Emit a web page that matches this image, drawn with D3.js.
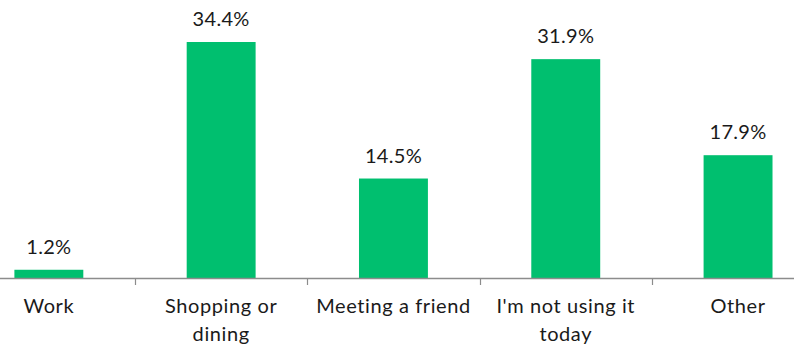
<!DOCTYPE html>
<html><head><meta charset="utf-8">
<script src="https://cdn.jsdelivr.net/npm/d3@7"></script>
<style>body{margin:0;background:#fff}svg{display:block}</style>
</head><body><svg id="c" width="800" height="345"></svg>
<script>
const categories = [["Work"], ["Shopping or", "dining"], ["Meeting a friend"], ["I'm not using it", "today"], ["Other"]];
const values = [1.2, 34.4, 14.5, 31.9, 17.9];
const valueLabels = ["1.2%", "34.4%", "14.5%", "31.9%", "17.9%"];

const svg = d3.select("#c");
const font = "Lato, 'Noto Sans', sans-serif";
const baseY = 278;
const x = d3.scaleBand().domain(d3.range(values.length)).range([-37.3, 824.2]).paddingInner(0.6).paddingOuter(0.3);
const y = d3.scaleLinear().domain([0, 34.4]).range([baseY, 42]);

svg.selectAll("rect.bar").data(values).join("rect")
  .attr("class", "bar")
  .attr("x", (d, i) => x(i)).attr("width", x.bandwidth())
  .attr("y", d => y(d)).attr("height", d => baseY - y(d))
  .attr("fill", "#00BF6F");

svg.selectAll("text.val").data(values).join("text")
  .attr("class", "val")
  .attr("x", (d, i) => x(i) + x.bandwidth() / 2)
  .attr("y", d => y(d) - 16)
  .attr("text-anchor", "middle")
  .attr("font-family", font).attr("font-size", 20).attr("letter-spacing", 0.3).attr("fill", "#1a1a1a")
  .text((d, i) => valueLabels[i]);

// axis
const step = x.step();
const g = svg.append("g");
g.append("line").attr("x1", 0).attr("x2", 794).attr("y1", baseY + 0.5).attr("y2", baseY + 0.5)
  .attr("stroke", "#8c8c8c").attr("stroke-width", 1.5);
const bounds = d3.range(1, values.length).map(i => x(i) - (step - x.bandwidth()) / 2);
g.selectAll("line.tick").data(bounds).join("line")
  .attr("x1", d => Math.round(d) + 0.5).attr("x2", d => Math.round(d) + 0.5)
  .attr("y1", baseY).attr("y2", baseY + 7)
  .attr("stroke", "#8c8c8c").attr("stroke-width", 1.2);

const lab = svg.selectAll("text.cat").data(categories).join("text")
  .attr("class", "cat")
  .attr("text-anchor", "middle")
  .attr("font-family", font).attr("font-size", 20).attr("letter-spacing", 0.6).attr("fill", "#1a1a1a");
lab.each(function(d, i) {
  d3.select(this).selectAll("tspan").data(d).join("tspan")
    .attr("x", x(i) + x.bandwidth() / 2)
    .attr("y", (t, j) => 313 + j * 28)
    .text(t => t);
});
</script></body></html>
